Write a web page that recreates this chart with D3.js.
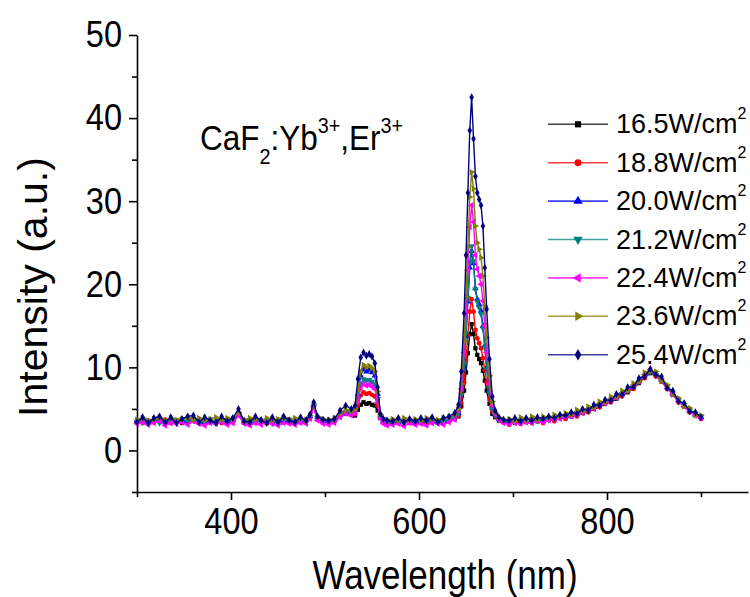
<!DOCTYPE html>
<html>
<head>
<meta charset="utf-8">
<script src="https://cdn.jsdelivr.net/npm/d3@7"></script>
<style>
  body { margin: 0; background: #fff; }
  text { font-family: "Liberation Sans", Arial, Helvetica, sans-serif; fill: #000; }
</style>
</head>
<body>
<div id="chart"></div>
<script>
// Wavelength grid (nm), shared by all spectra
const wavelength = [
  300,306,312,318,324,330,336,342,348,354,360,366,372,378,384,390,396,402,408,414,420,426,432,438,444,450,456,462,468,474,480,
  484,488,492,498,504,510,516,522,528,
  532,535,538,541,544,547,550,553,556,559,562,566,
  572,578,584,590,596,602,608,614,620,626,632,638,
  642,645,648,650,652,654,656,658,660,662,664,666,668,670,672,675,678,681,685,690,
  696,702,708,714,720,726,732,738,744,750,756,762,768,774,780,786,792,798,804,810,816,822,828,834,840,846,852,858,864,870,876,882,888,894,900
];

// Intensity (a.u.) per excitation power density
const p165 = [
  3.4,3.6,3.3,3.5,3.7,3.4,3.5,3.6,3.3,3.5,3.8,3.4,3.6,3.5,3.3,3.6,3.5,3.7,4.3,3.5,3.4,3.6,3.5,3.3,3.6,3.4,3.5,3.7,3.4,3.5,3.6,
  4.0,5.2,3.9,3.5,3.4,3.6,4.1,4.4,4.3,
  4.2,4.9,5.5,5.8,5.6,5.7,5.5,5.4,4.8,3.9,3.5,3.4,
  3.3,3.5,3.4,3.6,3.3,3.5,3.4,3.6,3.5,3.4,3.6,3.8,
  4.1,5.3,7.2,9.4,11.7,14.0,15.2,14.0,12.3,11.5,11.0,10.5,9.6,8.4,7.2,5.6,4.4,4.0,3.6,3.4,
  3.4,3.3,3.5,3.4,3.6,3.5,3.6,3.7,3.8,3.9,4.0,4.1,4.3,4.5,4.7,5.0,5.3,5.6,5.9,6.2,6.6,7.0,7.5,8.1,8.8,9.3,9.0,8.3,7.5,6.7,6.0,5.3,4.7,4.3,3.9
];
const p188 = [
  3.5,3.3,3.6,3.4,3.5,3.7,3.3,3.5,3.4,3.6,3.7,3.3,3.5,3.4,3.6,3.3,3.5,3.6,4.4,3.4,3.3,3.5,3.6,3.4,3.5,3.3,3.6,3.5,3.3,3.4,3.5,
  3.9,5.3,3.8,3.4,3.5,3.5,4.2,4.5,4.4,
  4.4,5.5,6.6,7.0,6.8,6.9,6.7,6.5,5.4,4.0,3.4,3.3,
  3.4,3.3,3.5,3.4,3.2,3.5,3.3,3.5,3.4,3.5,3.6,3.9,
  4.2,5.7,8.2,10.9,13.8,16.7,18.2,16.7,14.5,13.5,12.9,12.3,11.1,9.7,8.2,6.1,4.7,4.1,3.7,3.4,
  3.1,3.5,3.2,3.6,3.3,3.7,3.3,3.8,3.5,4.0,3.8,4.3,4.1,4.6,4.6,5.1,5.2,5.7,5.8,6.4,6.5,7.2,7.4,8.3,8.7,9.5,8.9,8.5,7.4,6.9,5.8,5.5,4.6,4.4,3.8
];
const p200 = [
  3.6,3.5,3.4,3.6,3.5,3.4,3.7,3.5,3.6,3.4,3.8,3.5,3.4,3.6,3.5,3.7,3.4,3.6,4.6,3.6,3.5,3.4,3.7,3.5,3.4,3.6,3.5,3.4,3.6,3.5,3.7,
  4.1,5.5,4.0,3.6,3.5,3.7,4.3,4.8,4.6,
  4.9,6.8,9.0,9.8,9.5,9.7,9.4,9.0,6.8,4.2,3.6,3.5,
  3.5,3.4,3.6,3.3,3.5,3.4,3.6,3.5,3.4,3.6,3.7,4.0,
  4.5,6.6,10.1,13.8,17.9,22.0,24.0,22.5,19.5,18.2,17.6,16.8,15.0,12.6,10.0,7.0,5.1,4.3,3.8,3.5,
  3.5,3.4,3.6,3.5,3.6,3.7,3.6,3.8,3.9,4.0,4.1,4.3,4.4,4.7,4.9,5.2,5.5,5.8,6.1,6.4,6.8,7.2,7.7,8.3,9.0,9.5,9.2,8.5,7.6,6.8,6.1,5.4,4.8,4.3,4.0
];
const p212 = [
  3.5,3.4,3.6,3.5,3.3,3.6,3.5,3.4,3.7,3.5,3.6,3.4,3.5,3.7,3.4,3.5,3.6,3.4,4.4,3.5,3.6,3.4,3.5,3.6,3.3,3.5,3.7,3.5,3.4,3.6,3.5,
  4.0,5.4,3.9,3.5,3.6,3.5,4.2,4.6,4.5,
  4.7,6.2,8.0,8.6,8.4,8.5,8.3,8.0,6.2,4.1,3.5,3.4,
  3.4,3.5,3.3,3.5,3.4,3.6,3.5,3.4,3.6,3.5,3.7,3.9,
  4.5,6.7,10.3,14.1,18.4,22.6,24.6,22.8,19.4,17.9,17.2,16.4,14.7,12.4,9.8,6.9,5.0,4.3,3.8,3.5,
  3.4,3.5,3.5,3.6,3.5,3.6,3.7,3.7,3.8,4.0,4.1,4.2,4.5,4.6,4.9,5.1,5.5,5.7,6.1,6.4,6.8,7.2,7.7,8.3,9.0,9.5,9.1,8.5,7.7,6.9,6.0,5.5,4.8,4.4,4.1
];
const p224 = [
  3.2,3.4,3.1,3.3,3.5,3.0,3.3,3.2,3.4,3.1,3.5,3.2,3.0,3.3,3.2,3.4,3.1,3.3,4.2,3.2,3.0,3.3,3.1,3.4,3.2,3.0,3.3,3.2,3.1,3.3,3.2,
  3.8,5.2,3.6,3.2,3.1,3.3,4.0,4.4,4.2,
  4.5,5.9,7.5,8.0,7.8,7.9,7.7,7.4,5.8,3.8,3.2,3.0,
  3.1,3.2,2.9,3.3,3.1,3.2,3.0,3.3,3.2,3.1,3.4,3.7,
  4.8,7.4,11.8,16.5,21.7,26.9,29.5,27.5,23.5,21.8,21.0,20.0,18.0,15.0,11.8,8.0,5.4,4.4,3.7,3.3,
  3.2,3.3,3.2,3.4,3.3,3.5,3.4,3.6,3.7,3.8,4.0,4.1,4.3,4.5,4.8,5.0,5.4,5.7,6.0,6.3,6.7,7.2,7.7,8.3,9.1,9.7,9.2,8.4,7.5,6.7,5.9,5.3,4.7,4.2,3.9
];
const p236 = [
  3.7,3.9,3.6,3.8,4.0,3.6,3.9,3.7,3.8,4.0,3.7,3.9,3.6,3.8,4.0,3.7,3.9,3.8,4.6,3.7,3.9,3.8,3.6,3.9,3.7,3.8,4.0,3.7,3.9,3.8,3.7,
  4.2,5.6,4.1,3.8,3.7,3.9,4.5,4.9,4.7,
  5.0,7.2,9.5,10.3,10.0,10.2,9.9,9.5,7.1,4.3,3.8,3.7,
  3.8,3.6,3.9,3.7,3.8,3.6,3.9,3.8,3.7,3.9,4.0,4.3,
  5.0,8.0,13.1,18.5,24.5,30.5,33.5,31.5,27.0,25.0,24.2,23.2,21.0,17.4,13.6,9.0,5.9,4.6,3.9,3.7,
  3.8,3.5,4.0,3.6,4.1,3.7,4.1,3.9,4.3,4.1,4.5,4.3,4.9,4.7,5.3,5.2,5.9,5.8,6.5,6.4,7.2,7.2,8.1,8.3,9.4,9.5,9.5,8.4,7.9,6.7,6.3,5.3,5.1,4.2,4.2
];
const p254 = [
  3.4,4.0,3.3,3.9,4.1,3.4,4.0,3.3,3.8,4.1,4.2,3.4,4.0,3.6,3.3,4.1,3.5,3.9,5.0,3.5,3.4,4.1,3.6,3.3,4.0,3.4,4.1,3.6,3.4,4.0,3.6,
  4.3,5.8,4.1,3.7,3.6,3.8,4.8,5.4,5.0,
  5.4,8.6,11.2,11.8,11.4,11.6,11.3,10.5,7.6,4.4,3.8,3.6,
  3.5,3.9,3.4,3.8,3.5,3.9,3.6,4.0,3.4,3.9,4.1,4.5,
  5.5,9.5,16.5,23.5,31.0,38.5,42.5,37.5,33.0,31.0,30.2,29.5,27.0,22.0,17.0,11.0,6.5,4.8,4.0,3.7,
  3.6,3.9,3.5,3.9,3.6,4.0,3.8,4.1,3.9,4.3,4.2,4.6,4.4,5.0,4.8,5.5,5.4,6.1,6.0,6.8,6.7,7.6,7.6,8.7,8.9,9.8,9.1,8.9,7.5,7.2,5.9,5.7,4.7,4.6,4.0
];

const powers = ['16.5', '18.8', '20.0', '21.2', '22.4', '23.6', '25.4'];
const spectra = [p165, p188, p200, p212, p224, p236, p254];

const xMajor = [400, 600, 800];
const xMinor = [300, 500, 700, 900];
const yMajor = [0, 10, 20, 30, 40, 50];
const yMinor = [-5, 5, 15, 25, 35, 45];

// Origin-like default colours / symbols
const colors = ['#000000', '#ff0000', '#0000ff', '#008080', '#ff00ff', '#808000', '#000080'];
const symbols = [
  [d3.symbolSquare, 0], [d3.symbolCircle, 0], [d3.symbolTriangle, 0], [d3.symbolTriangle, 180],
  [d3.symbolTriangle, -90], [d3.symbolTriangle, 90], [d3.symbolDiamond, 0]
];

const width = 750, height = 597;
const x = d3.scaleLinear().domain([300, 950]).range([137, 748]);
const y = d3.scaleLinear().domain([-5, 50]).range([492, 35]);

const svg = d3.select('#chart').append('svg')
  .attr('width', width)
  .attr('height', height);

// squeeze tick labels a little, the original font is narrow
function narrowText(sel, k) {
  sel.selectAll('text').each(function () {
    const t = d3.select(this);
    const x0 = +t.attr('x') || 0;
    t.attr('x', 0).attr('transform', `translate(${x0},0) scale(${k},1)`);
  });
}

// axes
const xAxis = svg.append('g').attr('transform', `translate(0,${y(-5)})`)
  .call(d3.axisBottom(x).tickValues(xMajor).tickSize(8).tickSizeOuter(0).tickPadding(8));
svg.append('g').attr('transform', `translate(0,${y(-5)})`)
  .call(d3.axisBottom(x).tickValues(xMinor).tickSize(5).tickFormat(''))
  .select('.domain').remove();
const yAxis = svg.append('g').attr('transform', `translate(${x(300)},0)`)
  .call(d3.axisLeft(y).tickValues(yMajor).tickSize(8).tickSizeOuter(0).tickPadding(7));
svg.append('g').attr('transform', `translate(${x(300)},0)`)
  .call(d3.axisLeft(y).tickValues(yMinor).tickSize(5).tickFormat(''))
  .select('.domain').remove();

svg.selectAll('.domain, .tick line').attr('stroke', '#000').attr('stroke-width', 1.6);
svg.selectAll('.tick text').attr('font-size', 37).attr('font-family', null);
narrowText(xAxis, 0.88);
narrowText(yAxis, 0.88);

// axis titles
svg.append('text')
  .attr('transform', `translate(445,589) scale(0.875,1)`)
  .attr('text-anchor', 'middle')
  .attr('font-size', 40)
  .text('Wavelength (nm)');
svg.append('text')
  .attr('transform', 'translate(47,287) rotate(-90)')
  .attr('text-anchor', 'middle')
  .attr('font-size', 41)
  .text('Intensity (a.u.)');

// spectra
const line = d3.line().x(d => x(d[0])).y(d => y(d[1]));
spectra.forEach((vals, i) => {
  const pts = wavelength.map((w, j) => [w, vals[j]]).filter(d => d[1] != null);
  const g = svg.append('g');
  g.append('path')
    .datum(pts)
    .attr('d', line)
    .attr('fill', 'none')
    .attr('stroke', colors[i])
    .attr('stroke-width', 1.4);
  const sym = d3.symbol().type(symbols[i][0]).size(18);
  g.selectAll('path.pt')
    .data(pts)
    .join('path')
    .attr('class', 'pt')
    .attr('d', sym)
    .attr('fill', colors[i])
    .attr('transform', d => `translate(${x(d[0])},${y(d[1])}) rotate(${symbols[i][1]})`);
});

// legend
const legend = svg.append('g');
powers.forEach((p, i) => {
  const ly = 124.3 + i * 38.4;
  const row = legend.append('g').attr('transform', `translate(548,${ly})`);
  row.append('line')
    .attr('x1', 0).attr('x2', 60)
    .attr('stroke', colors[i])
    .attr('stroke-opacity', 0.75)
    .attr('stroke-width', 1.6);
  row.append('path')
    .attr('d', d3.symbol().type(symbols[i][0]).size(38))
    .attr('fill', colors[i])
    .attr('transform', `translate(30,0) rotate(${symbols[i][1]})`);
  const t = row.append('text').attr('x', 68).attr('y', 9).attr('font-size', 27);
  t.append('tspan').text(p + 'W/cm');
  t.append('tspan').attr('dy', -14).attr('font-size', 16).text('2');
});

// sample label
const note = svg.append('text')
  .attr('transform', 'translate(200,150) scale(0.9,1)')
  .attr('font-size', 35);
note.append('tspan').text('CaF');
note.append('tspan').attr('dy', 14).attr('font-size', 22).text('2');
note.append('tspan').attr('dy', -14).text(':Yb');
note.append('tspan').attr('dy', -17).attr('font-size', 22).text('3+');
note.append('tspan').attr('dy', 17).text(',Er');
note.append('tspan').attr('dy', -17).attr('font-size', 22).text('3+');
</script>
</body>
</html>
